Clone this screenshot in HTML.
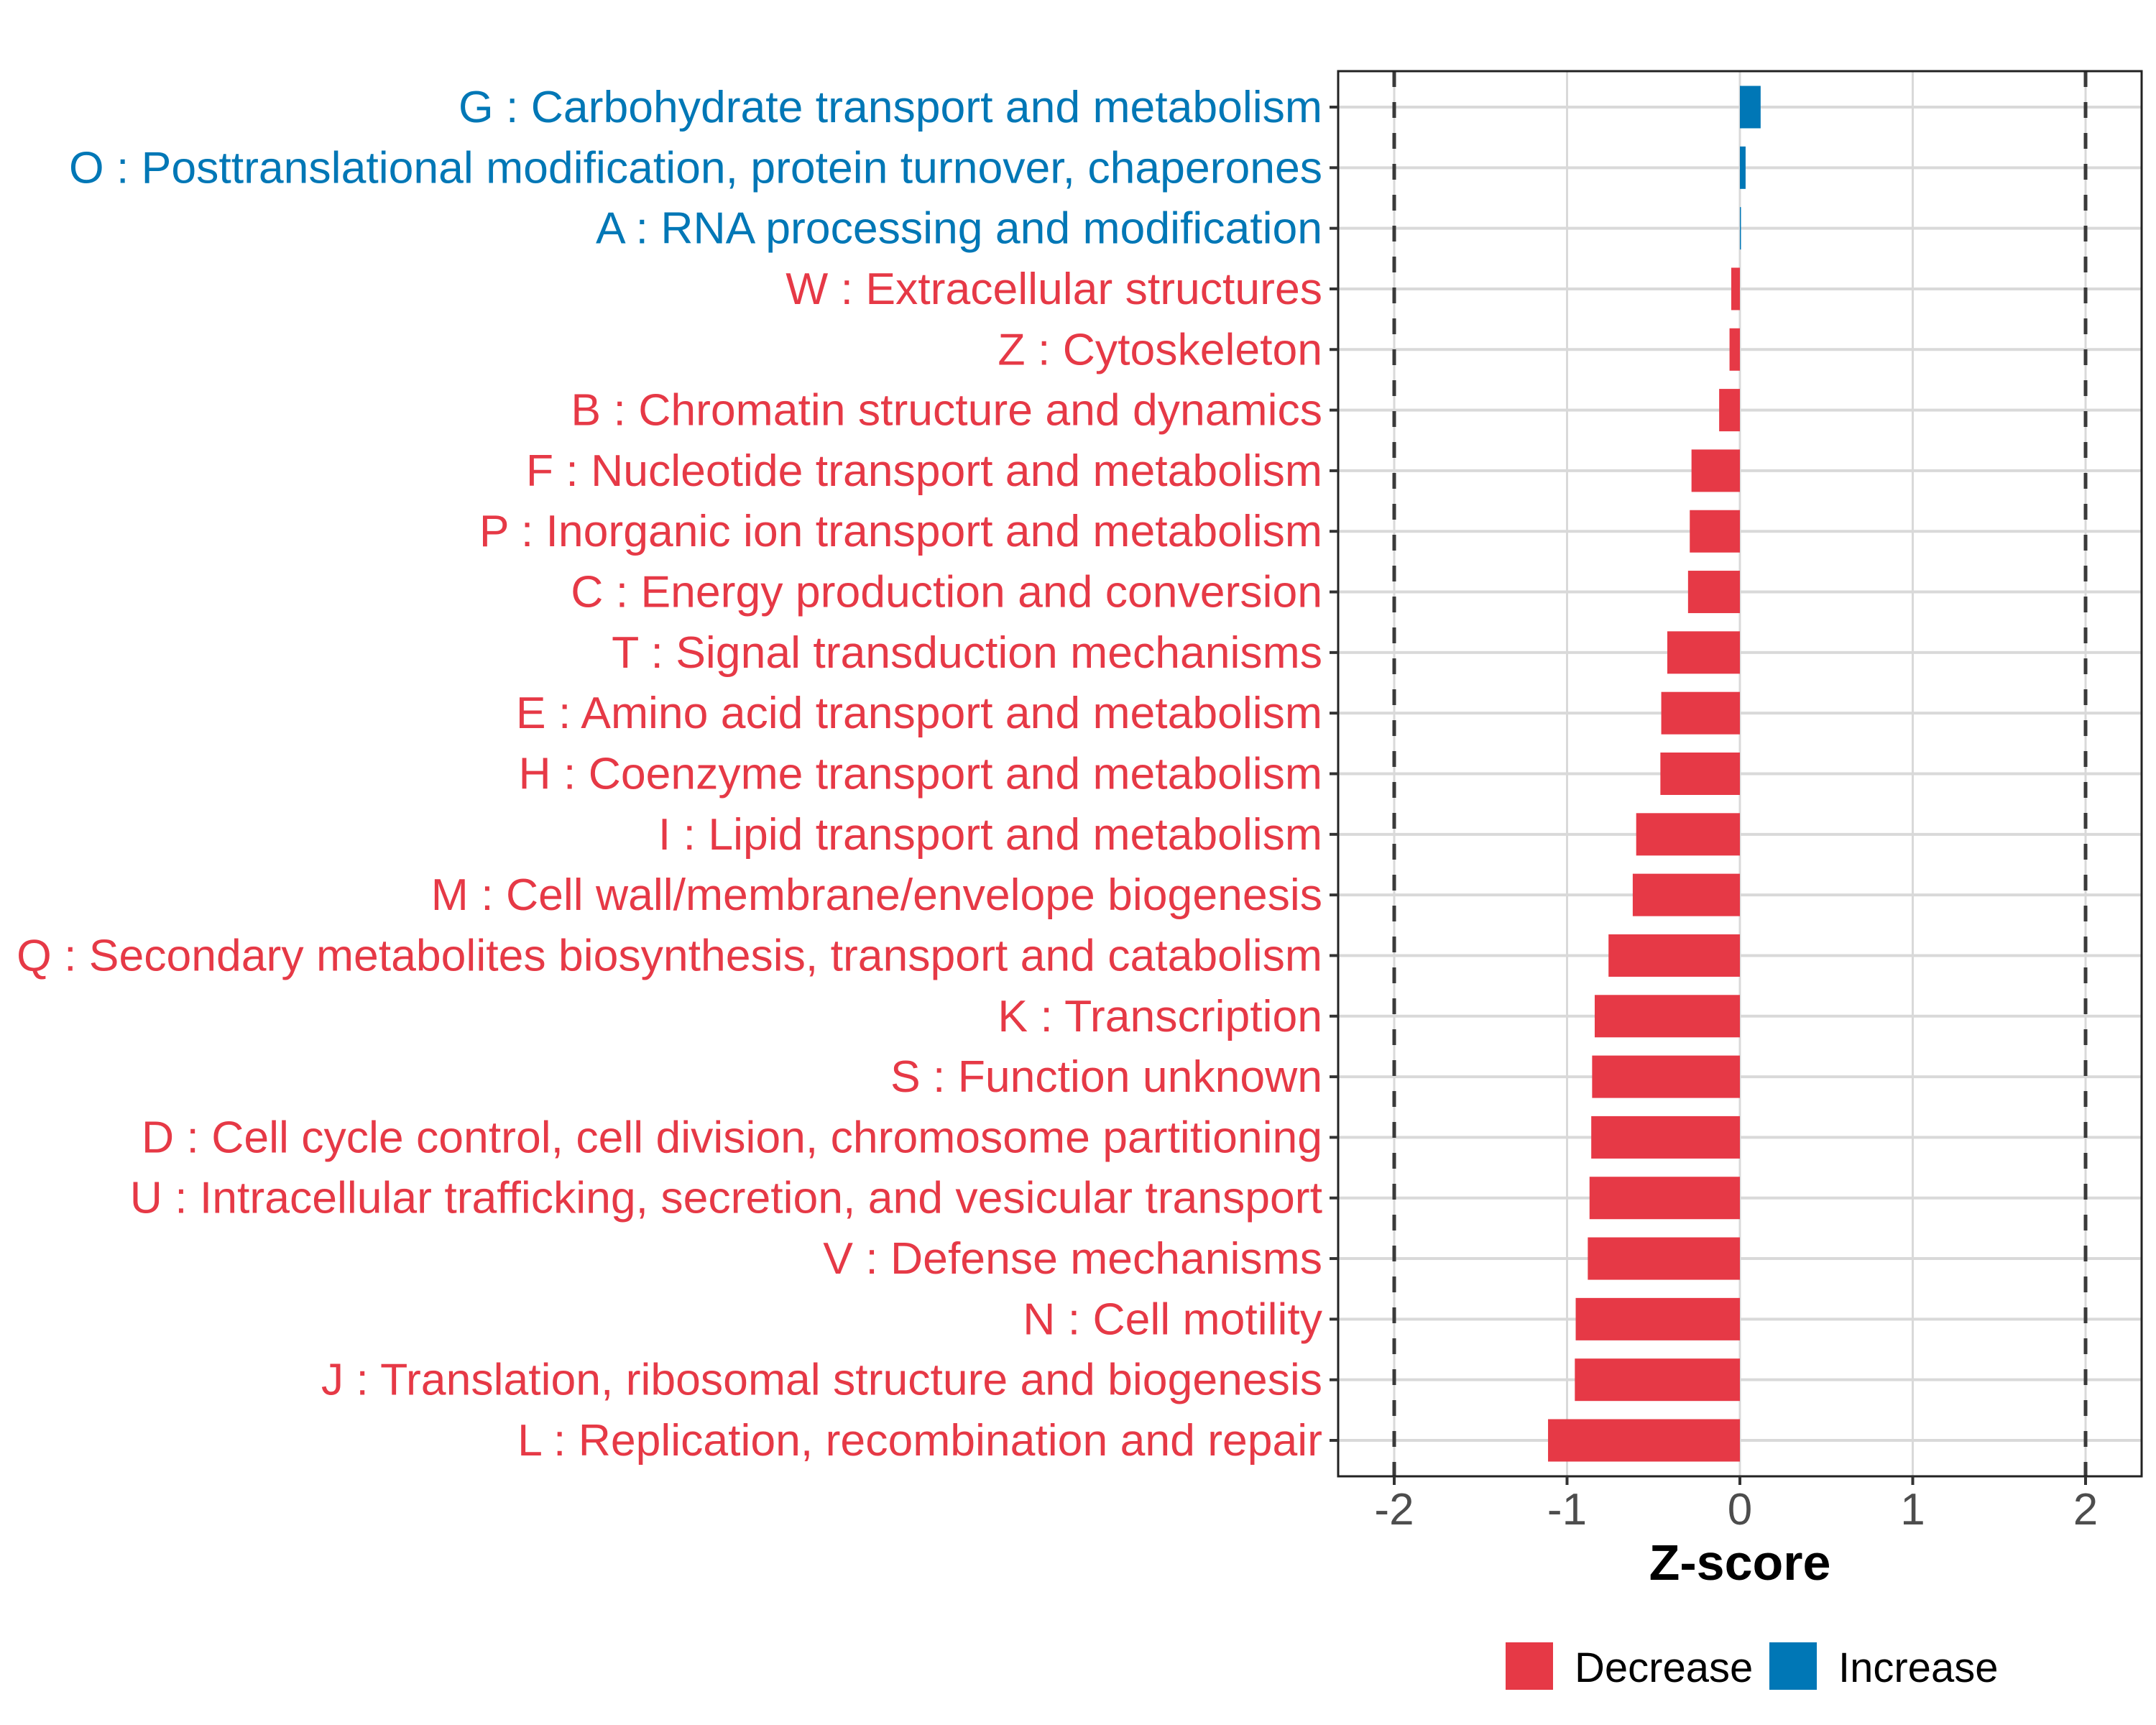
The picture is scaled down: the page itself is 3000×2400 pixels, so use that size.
<!DOCTYPE html>
<html><head><meta charset="utf-8"><style>
html,body{margin:0;padding:0;background:#fff;}
svg{display:block;font-family:"Liberation Sans",Arial,sans-serif;}
</style></head><body>
<svg id="chart" width="3000" height="2400" viewBox="0 0 3000 2400" xmlns="http://www.w3.org/2000/svg">
<rect width="3000" height="2400" fill="#fff"/>
<g id="grid"></g>
<g id="refs"></g>
<g id="bars"></g>
<rect x="1862" y="99" width="1118" height="1955" fill="none" stroke="#222" stroke-width="3"/>
<g id="yaxis"></g>
<g id="xaxis"></g>
<text x="2421" y="2198" text-anchor="middle" font-size="70" font-weight="bold" fill="#000">Z-score</text>
<g>
<rect x="2095" y="2285" width="66" height="66" fill="#E63946"/>
<text x="2191" y="2340" font-size="58" fill="#000">Decrease</text>
<rect x="2462" y="2285" width="66" height="66" fill="#0077B6"/>
<text x="2558" y="2340" font-size="58" fill="#000">Increase</text>
</g>
</svg>
<script>
const categories = ["G : Carbohydrate transport and metabolism","O : Posttranslational modification, protein turnover, chaperones","A : RNA processing and modification","W : Extracellular structures","Z : Cytoskeleton","B : Chromatin structure and dynamics","F : Nucleotide transport and metabolism","P : Inorganic ion transport and metabolism","C : Energy production and conversion","T : Signal transduction mechanisms","E : Amino acid transport and metabolism","H : Coenzyme transport and metabolism","I : Lipid transport and metabolism","M : Cell wall/membrane/envelope biogenesis","Q : Secondary metabolites biosynthesis, transport and catabolism","K : Transcription","S : Function unknown","D : Cell cycle control, cell division, chromosome partitioning","U : Intracellular trafficking, secretion, and vesicular transport","V : Defense mechanisms","N : Cell motility","J : Translation, ribosomal structure and biogenesis","L : Replication, recombination and repair"];
const zscores = [0.12,0.033,0.006,-0.05,-0.06,-0.12,-0.28,-0.29,-0.30,-0.42,-0.455,-0.46,-0.60,-0.62,-0.76,-0.84,-0.855,-0.86,-0.87,-0.88,-0.95,-0.955,-1.11];
const xTicks = [-2,-1,0,1,2];
const xTickLabels = ["-2","-1","0","1","2"];
const refLines = [-2,2];

const NS="http://www.w3.org/2000/svg";
const X0=2421, UNIT=240.5, Y0=149, STEP=(2004-149)/22, BARH=59;
const RED="#E63946", BLUE="#0077B6";
function xs(v){return X0+v*UNIT;}
function ys(i){return Y0+i*STEP;}
function mk(tag,attrs,parent){const e=document.createElementNS(NS,tag);for(const k in attrs)e.setAttribute(k,attrs[k]);parent.appendChild(e);return e;}
const grid=document.getElementById('grid'),refs=document.getElementById('refs'),bars=document.getElementById('bars'),yaxis=document.getElementById('yaxis'),xaxis=document.getElementById('xaxis');

xTicks.forEach((t,i)=>{
  const g=mk('line',{x1:xs(t),x2:xs(t),y1:99,y2:2054,stroke:'#d9d9d9','stroke-width':3},grid);
  
  
  const tk=mk('line',{x1:xs(t),x2:xs(t),y1:2054,y2:2066,stroke:'#333','stroke-width':4},xaxis);
  
  
  const tl=mk('text',{x:xs(t),y:2121,'text-anchor':'middle','font-size':62,fill:'#4d4d4d'},xaxis);
  tl.textContent=xTickLabels[i];
  
  
});
categories.forEach((c,i)=>{
  const g=mk('line',{x1:1862,x2:2980,y1:ys(i),y2:ys(i),stroke:'#d9d9d9','stroke-width':4},grid);
  
  
});
refLines.forEach(r=>{
  const l=mk('line',{x1:xs(r),x2:xs(r),y1:99,y2:2054,stroke:'#3a3a3a','stroke-width':5,'stroke-dasharray':'22 21'},refs);
  
  
});
categories.forEach((c,i)=>{
  const v=zscores[i], col=v>=0?BLUE:RED;
  const x=Math.min(xs(0),xs(v)), w=Math.max(Math.abs(xs(v)-xs(0)),1.5);
  const b=mk('rect',{x:x,y:ys(i)-BARH/2,width:w,height:BARH,fill:col},bars);
  
  
  const tk=mk('line',{x1:1850,x2:1862,y1:ys(i),y2:ys(i),stroke:'#333','stroke-width':4},yaxis);
  
  
  const t=mk('text',{x:1840,y:ys(i)+21,'text-anchor':'end','font-size':62.5,fill:col},yaxis);
  t.textContent=c;
  
  
});
</script>
</body></html>
